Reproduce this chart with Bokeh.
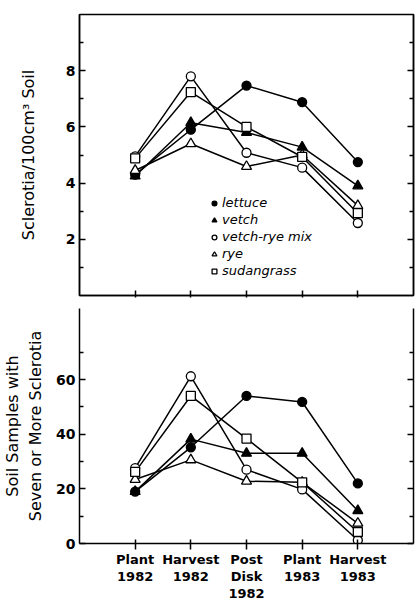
from bokeh.plotting import figure
from bokeh.models import (FixedTicker, LinearAxis, Range1d, Legend, LegendItem)
from bokeh.layouts import column
from bokeh.embed import file_html
from bokeh.resources import INLINE

categories = ["Plant\n1982", "Harvest\n1982", "Post\nDisk\n1982", "Plant\n1983", "Harvest\n1983"]
series = ["lettuce", "vetch", "vetch-rye mix", "rye", "sudangrass"]

# Sclerotia / 100 cm3 soil
top_lettuce = [4.3, 5.9, 7.47, 6.88, 4.75]
top_vetch = [4.25, 6.15, 5.8, 5.28, 3.9]
top_mix = [4.95, 7.8, 5.08, 4.55, 2.58]
top_rye = [4.45, 5.4, 4.59, 5.0, 3.2]
top_sudan = [4.88, 7.24, 6.0, 4.93, 2.93]

# Soil samples with seven or more sclerotia
bot_lettuce = [19.0, 35.2, 54.0, 51.8, 22.0]
bot_vetch = [19.0, 38.2, 33.0, 33.0, 12.0]
bot_mix = [27.6, 61.2, 27.0, 19.8, 1.2]
bot_rye = [23.4, 30.6, 22.8, 22.4, 7.4]
bot_sudan = [26.2, 54.0, 38.4, 22.4, 4.2]

top_ticks = [2, 4, 6, 8]
top_minor = [1, 3, 5, 7, 9]
bot_ticks = [0, 20, 40, 60]
bot_minor = [10, 30, 50, 70]

xs = list(range(1, len(categories) + 1))
FONT = "DejaVu Sans"

styles = {
    "lettuce": dict(marker="circle", fill_color="black", size=9),
    "vetch": dict(marker="triangle", fill_color="black", size=10),
    "vetch-rye mix": dict(marker="circle", fill_color="white", size=9),
    "rye": dict(marker="triangle", fill_color="white", size=10),
    "sudangrass": dict(marker="square", fill_color="white", size=9),
}


def hide_labels(ax):
    ax.major_label_text_font_size = "0px"
    ax.major_label_text_color = None
    ax.major_label_standoff = 0


def make_fig(ymax, ticks, minor, label, height, border_top, border_bottom, standoff):
    p = figure(width=416, height=height, output_backend="svg",
               toolbar_location=None, x_range=Range1d(0, 6), y_range=Range1d(0, ymax),
               min_border_left=77, min_border_right=3, min_border_top=border_top,
               min_border_bottom=border_bottom)
    p.grid.visible = False
    p.background_fill_color = "white"
    p.border_fill_color = "white"
    ax = p.yaxis[0]
    ax.ticker = FixedTicker(ticks=ticks, minor_ticks=minor)
    ax.major_tick_in = 6
    ax.major_tick_out = 0
    ax.minor_tick_in = 4
    ax.minor_tick_out = 0
    ax.axis_line_width = 1.5
    ax.major_tick_line_width = 1.5
    ax.minor_tick_line_width = 1.5
    ax.major_label_text_font = FONT
    ax.major_label_text_font_style = "bold"
    ax.major_label_text_font_size = "14px"
    ax.major_label_standoff = 4
    ax.axis_label = label
    ax.axis_label_text_font = FONT
    ax.axis_label_text_font_style = "normal"
    ax.axis_label_text_font_size = "16px"
    ax.axis_label_standoff = standoff
    ax.axis_label_text_color = "black"
    ax.major_label_text_color = "black"

    r = LinearAxis(ticker=FixedTicker(ticks=ticks, minor_ticks=minor))
    r.major_tick_in = 6
    r.major_tick_out = 0
    r.minor_tick_in = 4
    r.minor_tick_out = 0
    r.axis_line_width = 1.5
    r.major_tick_line_width = 1.5
    r.minor_tick_line_width = 1.5
    hide_labels(r)
    p.add_layout(r, "right")

    xa = p.xaxis[0]
    xa.ticker = FixedTicker(ticks=xs, minor_ticks=[])
    xa.axis_line_width = 1.5
    xa.major_tick_line_width = 1.5
    xa.major_label_text_font = FONT
    xa.major_label_text_color = "black"
    return p


def draw(p, data):
    for name, ys in zip(series, data):
        p.line(xs, ys, line_color="black", line_width=1.5)
    rends = {}
    for name, ys in zip(series, data):
        st = styles[name]
        rends[name] = p.scatter(xs, ys, marker=st["marker"], size=st["size"],
                                fill_color=st["fill_color"], line_color="black",
                                line_width=1.3)
    return rends


top = make_fig(10, top_ticks, top_minor, "Sclerotia/100cm³ Soil", 300, 14, 5, 25)
top.outline_line_color = "black"
top.outline_line_width = 1.5
xa = top.xaxis[0]
xa.major_tick_in = 5
xa.major_tick_out = 2
hide_labels(xa)
rt = draw(top, [top_lettuce, top_vetch, top_mix, top_rye, top_sudan])

legend = Legend(items=[LegendItem(label=n, renderers=[rt[n]]) for n in series],
                location=(129, 17), border_line_color=None, background_fill_alpha=0,
                padding=0, margin=0, spacing=2, glyph_height=12, glyph_width=12,
                label_height=12, label_standoff=2, label_text_font=FONT,
                label_text_font_size="13px", label_text_font_style="italic",
                label_text_color="black")
top.add_layout(legend)

bot = make_fig(86, bot_ticks, bot_minor, "Soil Samples with\nSeven or More Sclerotia",
               304, 8, 57, 8)
bot.outline_line_color = None
xb = bot.xaxis[0]
xb.major_tick_in = 4
xb.major_tick_out = 6
xb.major_label_overrides = {x: c for x, c in zip(xs, categories)}
xb.major_label_text_font_size = "13px"
xb.major_label_text_font_style = "bold"
xb.major_label_text_line_height = 1.15
xb.major_label_standoff = 2
draw(bot, [bot_lettuce, bot_vetch, bot_mix, bot_rye, bot_sudan])

layout = column(top, bot, spacing=0)
open("out.html", "w").write(file_html(layout, INLINE))
